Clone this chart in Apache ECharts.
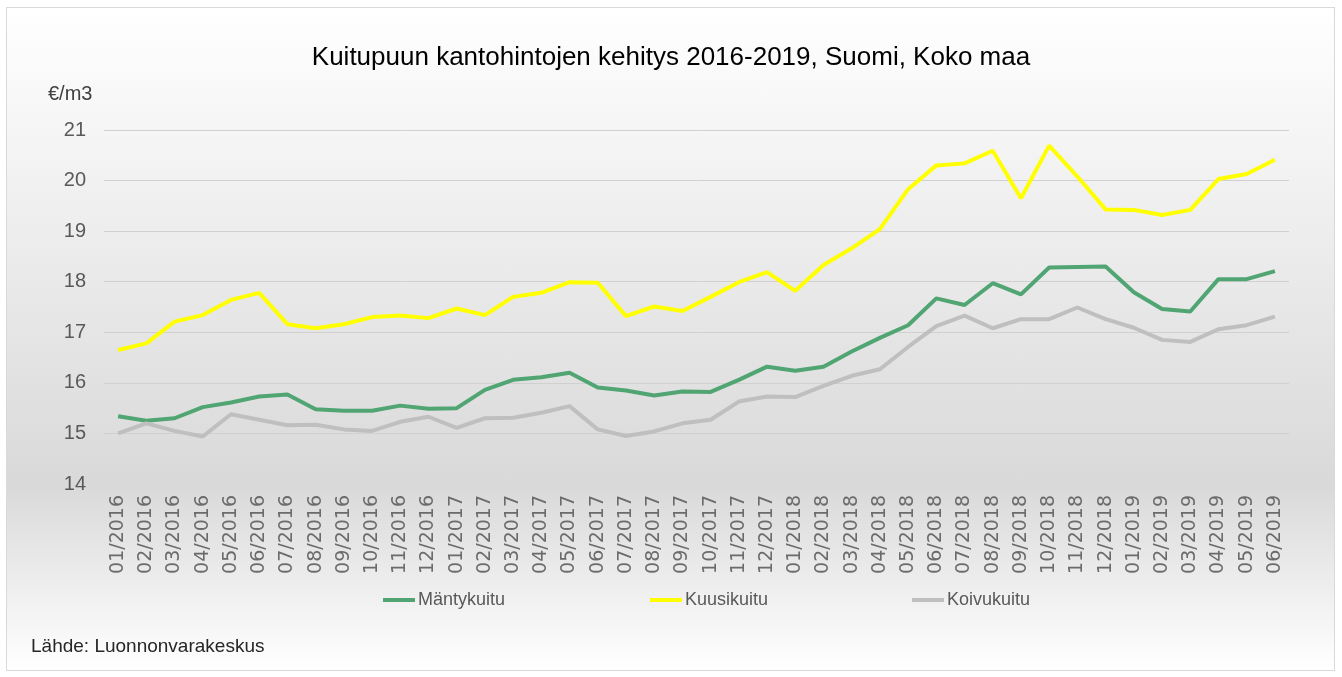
<!DOCTYPE html>
<html>
<head>
<meta charset="utf-8">
<title>Kuitupuun kantohinnat</title>
<script src="https://cdn.jsdelivr.net/npm/echarts@6/dist/echarts.min.js"></script>
<style>
html, body { margin: 0; padding: 0; background: #ffffff; }
#frame {
	position: absolute; left: 6px; top: 7px; width: 1327px; height: 662px;
	border: 1px solid #d9d9d9;
	background: linear-gradient(to bottom, #ffffff 0%, #d9d9d9 72%, #ffffff 100%);
}
#main { position: absolute; left: 0; top: 0; width: 1342px; height: 677px; }
</style>
</head>
<body>
<div id="frame"></div>
<div id="main"></div>
<script>
// kuukaudet 01/2016 - 06/2019
var months = ['01/2016','02/2016','03/2016','04/2016','05/2016','06/2016','07/2016','08/2016','09/2016','10/2016','11/2016','12/2016',
	'01/2017','02/2017','03/2017','04/2017','05/2017','06/2017','07/2017','08/2017','09/2017','10/2017','11/2017','12/2017',
	'01/2018','02/2018','03/2018','04/2018','05/2018','06/2018','07/2018','08/2018','09/2018','10/2018','11/2018','12/2018',
	'01/2019','02/2019','03/2019','04/2019','05/2019','06/2019'];
var mantykuitu = [15.34,15.25,15.30,15.52,15.61,15.73,15.77,15.48,15.45,15.45,15.55,15.49,
	15.50,15.86,16.06,16.11,16.20,15.91,15.85,15.75,15.83,15.82,16.06,16.32,
	16.24,16.32,16.62,16.89,17.14,17.67,17.54,17.97,17.75,18.28,18.29,18.30,
	17.79,17.46,17.41,18.05,18.05,18.21];
var kuusikuitu = [16.65,16.78,17.21,17.34,17.64,17.78,17.16,17.08,17.16,17.30,17.33,17.28,
	17.47,17.34,17.70,17.78,17.99,17.98,17.32,17.51,17.42,17.70,17.99,18.19,
	17.82,18.33,18.66,19.04,19.83,20.30,20.34,20.59,19.65,20.69,20.08,19.43,
	19.42,19.32,19.42,20.03,20.13,20.41];
var koivukuitu = [15.00,15.20,15.05,14.94,15.38,15.27,15.16,15.17,15.08,15.05,15.23,15.33,
	15.11,15.30,15.31,15.41,15.54,15.08,14.95,15.04,15.20,15.27,15.63,15.73,
	15.72,15.94,16.14,16.27,16.71,17.12,17.33,17.08,17.26,17.26,17.49,17.26,
	17.09,16.85,16.81,17.06,17.14,17.31];
var seriesNames = ['Mäntykuitu','Kuusikuitu','Koivukuitu'];
var seriesColors = ['#50a573','#ffff00','#bfbfbf'];
var yTicks = [14,15,16,17,18,19,20,21];

var narrow = '"Liberation Sans Narrow", "Liberation Sans", Arial, sans-serif';

var myChart = echarts.init(document.getElementById('main'));

//yksi selite kullekin sarjalle, jotta paikat saadaan kohdalleen
function legendAt(name, left) {
	return {
		data: [name],
		left: left,
		top: 591,
		padding: 0,
		icon: 'rect',
		itemWidth: 32,
		itemHeight: 4,
		itemGap: 0,
		textStyle: { fontFamily: narrow, fontSize: 18, color: '#595959', padding: [0, 0, 0, -2] }
	};
}

var option = {
	animation: false,
	backgroundColor: 'transparent',
	title: {
		text: 'Kuitupuun kantohintojen kehitys 2016-2019, Suomi, Koko maa',
		left: 'center',
		top: 40,
		textStyle: { fontFamily: narrow, fontSize: 26, fontWeight: 'normal', color: '#000000' }
	},
	graphic: [
		{ type: 'text', left: 48, top: 84, style: { text: '€/m3', font: '20px ' + narrow, fill: '#404040' } },
		{ type: 'text', left: 31, top: 637, style: { text: 'Lähde: Luonnonvarakeskus', font: '19px ' + narrow, fill: '#262626' } }
	],
	legend: [legendAt(seriesNames[0], 383), legendAt(seriesNames[1], 650), legendAt(seriesNames[2], 912)],
	grid: { left: 104, right: 53, top: 130, bottom: 193 },
	xAxis: {
		type: 'category',
		data: months,
		boundaryGap: true,
		axisLine: { show: false },
		axisTick: { show: false },
		axisLabel: { interval: 0, rotate: 90, margin: 11, fontFamily: '"DejaVu Sans", sans-serif', fontSize: 19, color: '#6b6b6b' }
	},
	yAxis: {
		type: 'value',
		min: yTicks[0],
		max: yTicks[yTicks.length - 1],
		interval: 1,
		axisLine: { show: false },
		axisTick: { show: false },
		axisLabel: { margin: 18, fontFamily: narrow, fontSize: 20, color: '#595959' },
		splitLine: { showMinLine: false, lineStyle: { color: '#d0d0d0', width: 1 } }
	},
	series: [
		{ name: seriesNames[0], type: 'line', data: mantykuitu, symbol: 'none', color: seriesColors[0], lineStyle: { width: 4, color: seriesColors[0] } },
		{ name: seriesNames[1], type: 'line', data: kuusikuitu, symbol: 'none', color: seriesColors[1], lineStyle: { width: 4, color: seriesColors[1] } },
		{ name: seriesNames[2], type: 'line', data: koivukuitu, symbol: 'none', color: seriesColors[2], lineStyle: { width: 4, color: seriesColors[2] } }
	]
};
myChart.setOption(option);
</script>
</body>
</html>
